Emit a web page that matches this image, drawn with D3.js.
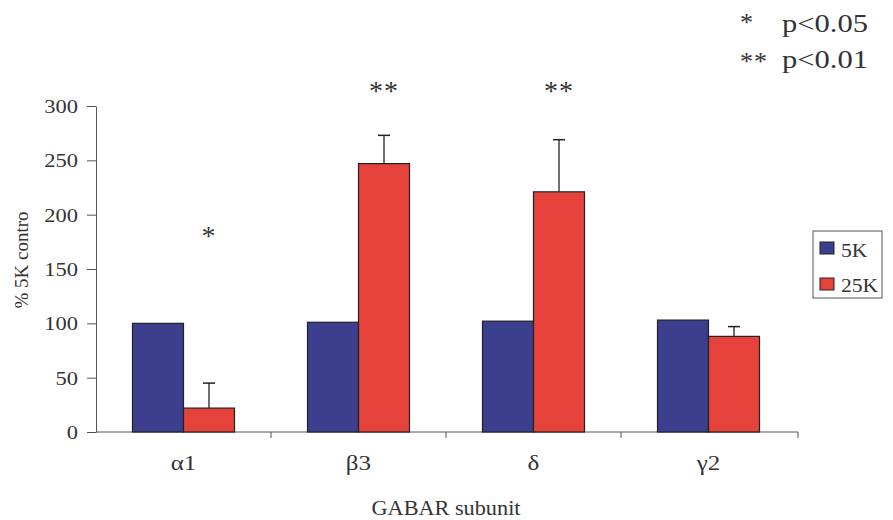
<!DOCTYPE html>
<html><head><meta charset="utf-8">
<script src="https://cdn.jsdelivr.net/npm/d3@7"></script>
<style>body{margin:0;background:#fff;} text{font-family:"Liberation Serif","Times New Roman",serif;fill:#333;}</style>
</head><body>
<svg id="c" width="893" height="520"></svg>
<script>
const categories = ["α1", "β3", "δ", "γ2"];
const seriesNames = ["5K", "25K"];
const values5K = [100, 101, 102, 103];
const values25K = [22, 247, 221, 88];
const errors25K = [23, 26, 48, 9];
const sigMarks = ["*", "**", "**", ""];
const yTicks = [0, 50, 100, 150, 200, 250, 300];
const colors = ["#3b3f8e", "#e5423b"];

function stretch(sel, f) {
  sel.each(function () {
    const w = this.getComputedTextLength();
    d3.select(this).attr("textLength", w * f).attr("lengthAdjust", "spacingAndGlyphs");
  });
}

const svg = d3.select("#c");
const m = {l: 96, r: 97, t: 106, b: 88};
const W = 893, H = 520;
const y = d3.scaleLinear().domain([0, 300]).range([H - m.b, m.t]);
const x0 = d3.scaleBand().domain(categories).range([m.l, W - m.r]);
const x1 = d3.scaleBand().domain(seriesNames)
  .range([x0.bandwidth() / 2 - 51, x0.bandwidth() / 2 + 51]);

// y axis
const ya = svg.append("g").attr("transform", `translate(${m.l},0)`)
  .call(d3.axisLeft(y).tickValues(yTicks).tickSize(9).tickPadding(9).tickSizeOuter(0));
ya.select(".domain").attr("stroke", "#555");
ya.selectAll(".tick line").attr("stroke", "#555");
ya.selectAll("text").attr("font-size", 18).attr("font-family", "Liberation Serif").attr("fill", "#333")
  .attr("dy", "0.36em");
stretch(ya.selectAll("text"), 1.25);

// x axis (boundary ticks)
const xa = svg.append("g").attr("transform", `translate(0,${y(0)})`);
xa.append("line").attr("x1", m.l).attr("x2", W - m.r + 2).attr("stroke", "#555");
const bounds = categories.map(c => x0(c)).concat([x0(categories[categories.length - 1]) + x0.bandwidth() + 2]);
xa.selectAll("line.t").data(bounds.slice(1)).enter().append("line").attr("class", "t")
  .attr("x1", d => d).attr("x2", d => d).attr("y1", 0).attr("y2", 6).attr("stroke", "#555");
const cl = xa.selectAll("text.cl").data(categories).enter().append("text").attr("class", "cl")
  .attr("x", d => x0(d) + x0.bandwidth() / 2).attr("y", 38).attr("text-anchor", "middle")
  .attr("font-size", 20).text(d => d);
stretch(cl, 1.25);

// bars
const data = categories.map((c, i) => ({c, vals: [values5K[i], values25K[i]], err: errors25K[i], sig: sigMarks[i]}));
const g = svg.selectAll("g.grp").data(data).enter().append("g").attr("class", "grp")
  .attr("transform", d => `translate(${x0(d.c)},0)`);
g.selectAll("rect").data(d => d.vals.map((v, j) => ({s: seriesNames[j], v, j}))).enter().append("rect")
  .attr("x", d => x1(d.s)).attr("width", x1.bandwidth())
  .attr("y", d => y(d.v)).attr("height", d => y(0) - y(d.v))
  .attr("fill", d => colors[d.j]).attr("stroke", "#222").attr("stroke-width", 1.2);
// error bars on 25K
g.append("line")
  .attr("x1", d => x1("25K") + x1.bandwidth() / 2).attr("x2", d => x1("25K") + x1.bandwidth() / 2)
  .attr("y1", d => y(d.vals[1])).attr("y2", d => y(d.vals[1] + d.err))
  .attr("stroke", "#222").attr("stroke-width", 1.3);
g.append("line")
  .attr("x1", d => x1("25K") + x1.bandwidth() / 2 - 6).attr("x2", d => x1("25K") + x1.bandwidth() / 2 + 6)
  .attr("y1", d => y(d.vals[1] + d.err)).attr("y2", d => y(d.vals[1] + d.err))
  .attr("stroke", "#222").attr("stroke-width", 1.5);
// significance
g.append("text")
  .attr("x", d => x1("25K") + x1.bandwidth() / 2)
  .attr("y", d => d.sig === "*" ? 245 : 100)
  .attr("text-anchor", "middle").attr("font-size", 28).attr("letter-spacing", 1).attr("fill", "#555")
  .text(d => d.sig);

// axis titles
const yt = svg.append("text").attr("transform", `translate(28,260) rotate(-90)`)
  .attr("text-anchor", "middle").attr("font-size", 19).text("% 5K contro");
const xt = svg.append("text").attr("x", (m.l + W - m.r) / 2).attr("y", 515).attr("text-anchor", "middle")
  .attr("font-size", 21).text("GABAR subunit");
xt.attr("textLength", 149).attr("lengthAdjust", "spacingAndGlyphs");

// legend
const lg = svg.append("g").attr("transform", "translate(813,231)");
lg.append("rect").attr("width", 69).attr("height", 67).attr("fill", "#fff").attr("stroke", "#555");
seriesNames.forEach((s, i) => {
  lg.append("rect").attr("x", 7).attr("y", 11 + i * 36).attr("width", 14).attr("height", 12)
    .attr("fill", colors[i]).attr("stroke", "#222");
  const t = lg.append("text").attr("x", 28).attr("y", 25.5 + i * 35).attr("font-size", 18).text(s);
  stretch(t, 1.2);
});

// p-value note
const note = svg.append("g");
note.append("text").attr("x", 740).attr("y", 31).attr("font-size", 26).attr("fill", "#555").text("*");
note.append("text").attr("x", 740).attr("y", 70).attr("font-size", 26).attr("letter-spacing", 1).attr("fill", "#555").text("**");
note.append("text").attr("x", 782).attr("y", 32).attr("font-size", 26)
  .attr("textLength", 86).attr("lengthAdjust", "spacingAndGlyphs").text("p<0.05");
note.append("text").attr("x", 782).attr("y", 68).attr("font-size", 26)
  .attr("textLength", 86).attr("lengthAdjust", "spacingAndGlyphs").text("p<0.01");
</script>
</body></html>
